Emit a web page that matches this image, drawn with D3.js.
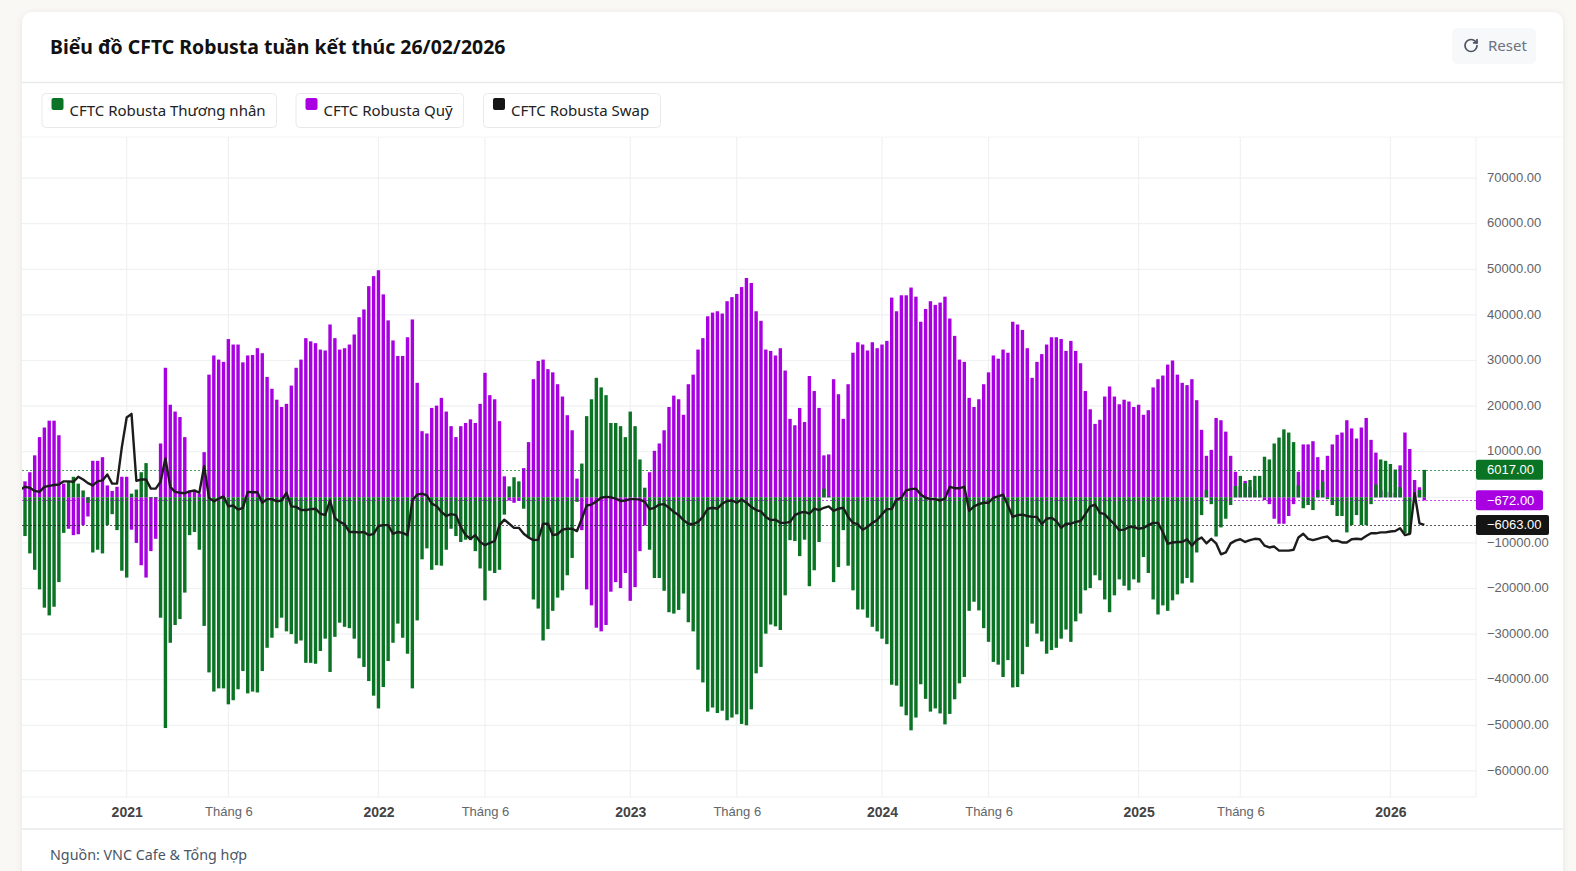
<!DOCTYPE html>
<html lang="vi">
<head>
<meta charset="utf-8">
<title>CFTC Robusta</title>
<script src="https://cdn.jsdelivr.net/npm/d3@7"></script>
<style>
  html, body { margin: 0; padding: 0; background: #faf8f4; overflow: hidden; }
  svg { display: block; font-family: "Noto Sans", "Open Sans", sans-serif; }
  .card { filter: drop-shadow(0 1px 3px rgba(0, 0, 0, 0.08)); }
  .axis text { font-family: "Liberation Sans", sans-serif; font-size: 13px; fill: #5f6368; }
  .axis path, .axis line { display: none; }
</style>
</head>
<body>
<div id="chart"></div>
<script>
// Values, one per weekly report (first one sits just off the left edge)
const commercial = [
  -6000,
  -8500,-12300,-15900,-20200,-24200,-25900,-24000,-18600,-7800,3400,
  4500,3000,1500,-1200,-12100,-11500,-12300,-6100,-3700,-7200,
  -16100,-17600,800,1700,5500,7500,-200,-200,-26400,-50600,
  -31900,-28000,-26700,-20900,-8300,-7600,-11500,-28200,-38400,-42600,
  -41900,-41900,-45400,-44500,-42100,-38100,-43000,-42600,-42800,-38100,
  -33000,-30800,-28700,-26400,-29400,-30000,-32100,-31400,-36300,-36300,
  -36500,-33700,-31000,-38300,-30600,-27500,-28400,-28700,-31000,-35300,
  -37200,-40300,-43500,-46300,-41600,-35900,-31900,-27700,-30800,-34300,
  -41900,-27000,-13600,-11200,-15900,-14900,-15000,-11500,-6900,-8500,
  -9800,-9300,-9400,-11800,-15600,-22600,-16100,-16600,-15900,-3800,
  2400,4400,3500,-2500,-8700,-22400,-24400,-31400,-28900,-24900,
  -22000,-20400,-17100,-13300,-1000,7400,17800,21500,26200,24100,
  22400,16300,16300,15600,13200,18800,15600,8300,2100,-11500,
  -17700,-17700,-20500,-25200,-25500,-24700,-21100,-27400,-29400,-37800,
  -40600,-47000,-46100,-47300,-46800,-48900,-48300,-47600,-49700,-50000,
  -46500,-38600,-37200,-29900,-27900,-28300,-29100,-21500,-9400,-9600,
  -12900,-9300,-19500,-16000,-9800,1900,200,-18600,-15300,-7200,
  -15000,-20400,-24600,-24600,-26400,-28400,-29400,-31000,-32200,-41100,
  -41300,-45900,-47800,-51100,-48300,-41000,-44200,-47000,-46300,-47400,
  -49800,-47500,-44300,-40800,-39400,-24900,-22900,-24800,-28700,-31700,
  -36100,-36700,-39400,-35700,-41700,-41600,-38800,-32800,-27700,-29900,
  -31600,-34300,-33500,-33000,-31000,-29000,-31700,-27200,-25500,-20400,
  -19900,-17100,-18200,-22400,-25200,-21500,-18000,-19400,-20400,-18000,
  -18700,-13100,-16600,-22400,-25700,-23700,-24900,-22600,-21300,-18900,
  -17700,-18700,-12100,-3900,1600,-1500,-8600,-6600,-4700,-1700,
  2500,4700,3100,3800,4700,4700,8900,8300,11800,13100,
  14900,14200,12100,2600,-2400,-1700,-2800,1600,3400,-400,
  -1700,-4100,-4100,-7700,-6100,-3900,-6100,-6100,-1500,2800,
  8300,8000,7300,6100,2200,-7900,-8000,-300,1600,6017
];
const funds = [
  2000,
  3500,5500,9200,13200,15300,16800,16800,13600,3000,-6900,
  -8300,-8100,-6100,-4200,8000,8000,8800,2600,1400,2300,
  4500,4500,-7100,-10000,-14900,-17600,-11800,-9100,11800,28400,
  20300,18800,17600,13200,1500,1500,800,9900,26900,31100,
  30200,29700,34700,33500,33500,29600,31100,31200,32700,31600,
  26400,23800,21400,19800,20500,24500,28400,30200,34900,34200,
  33800,32400,32200,37900,34900,32400,32700,33500,35700,39500,
  41200,46300,48500,49800,44500,38800,34400,31000,31000,35100,
  39000,25100,14500,14000,19600,20100,21800,18800,15600,13200,
  15600,16300,17100,16300,20500,27300,22400,21500,16700,4600,
  -700,-1200,-800,6400,12100,25900,29900,30200,28100,27400,
  24800,22100,18000,14700,4100,-7200,-20200,-23700,-28600,-29400,
  -28000,-20700,-18600,-19900,-16600,-22700,-19700,-11800,-6200,5500,
  10200,11800,14700,19800,22300,21500,18100,24800,26900,32400,
  34900,39700,40500,40800,40300,43000,43900,44600,46100,48100,
  47000,40800,38700,32400,32100,31100,32700,27800,17200,15800,
  19600,16500,26600,23300,19600,9200,9400,25900,22600,17200,
  24800,31700,34000,33500,32200,34000,32700,33500,34300,43800,
  40800,44300,44300,46000,44000,38500,41300,43000,42200,42700,
  44000,39200,35400,30200,29700,21800,19800,21500,24800,27400,
  31100,30400,32400,31700,38500,37900,36700,32700,26200,29700,
  31400,33500,35100,35100,34700,32100,34300,32100,29400,23300,
  19300,16100,17000,22100,24300,22100,20400,21400,21000,19800,
  20300,18100,19100,24100,25900,26700,29100,30000,26900,25100,
  24600,25900,21300,14800,9100,10400,17400,16900,14400,9100,
  5600,2300,3600,2300,1600,500,-600,-1500,-4700,-5800,
  -5800,-4100,-1500,5600,11600,11600,12300,8800,6000,9100,
  11600,13700,14200,16900,15100,12900,15300,17400,12600,9800,
  1600,1200,1200,900,7000,14200,10600,3800,2200,-672
];
const swap = [
  1700,
  2300,2100,1400,1200,2300,2500,2700,2800,3500,3500,
  3400,4500,3900,3100,2600,3500,3700,5000,3000,3000,
  11000,17500,18300,3600,3900,3900,1900,1900,3400,8500,
  2300,1200,1000,900,1300,1500,1000,6800,-100,-900,
  -300,200,-2000,-1800,-2700,-2300,1200,1100,1100,-1200,
  -400,-400,-900,-700,1000,-2000,-2100,-2800,-2800,-2600,
  -2500,-3600,-3900,-700,-4500,-5400,-5900,-7600,-7600,-7700,
  -7600,-8300,-8000,-6300,-6100,-6100,-8000,-7600,-7800,-8300,
  -700,600,800,400,-1400,-1900,-3200,-4100,-3700,-3900,
  -6500,-8300,-9100,-8300,-9800,-10500,-10000,-9600,-6100,-4900,
  -5800,-6700,-6700,-8000,-8800,-9400,-9300,-5800,-5800,-8300,
  -8100,-7100,-6900,-6900,-7400,-4700,-1800,-1600,-900,-100,
  100,0,-300,-800,-700,-400,-400,-500,-1000,-2600,
  -2300,-1600,-1500,-2300,-3200,-3900,-5000,-5800,-5900,-5400,
  -4300,-2500,-2300,-2500,-1400,-800,-700,-1200,-500,-1200,
  -2100,-2800,-3100,-4300,-5000,-4900,-5600,-5600,-5400,-3900,
  -3400,-3200,-3600,-2500,-2800,-2300,-2000,-3000,-2500,-2300,
  -4300,-5600,-5900,-7100,-6500,-5600,-5000,-3700,-2600,-2600,
  -500,-100,1500,1800,1900,600,-100,-400,-400,-700,
  -300,2300,2000,2000,2300,-3000,-2000,-1500,-1200,-1200,
  -100,200,600,-1800,-4300,-3900,-3800,-4100,-4300,-4300,
  -5900,-4700,-4500,-5200,-6700,-5800,-5800,-5400,-5200,-3700,
  -2000,-1600,-3400,-3700,-4900,-5900,-7200,-7100,-6500,-6500,
  -6900,-6700,-6100,-5600,-5600,-7600,-10200,-9900,-9800,-9800,
  -9200,-10600,-9400,-8800,-10100,-9100,-10100,-12500,-12100,-10100,
  -9500,-9200,-9800,-9400,-9100,-9200,-10600,-11000,-10800,-11700,
  -11700,-11700,-11500,-8800,-8000,-9100,-9400,-9100,-8800,-8600,
  -9600,-9500,-9900,-9900,-9200,-9100,-9200,-8500,-7900,-7900,
  -7700,-7700,-7500,-7400,-6800,-8300,-8000,900,-5700,-6063
];
const yTicks = [70000,60000,50000,40000,30000,20000,10000,-10000,-20000,-30000,-40000,-50000,-60000];
const gridValues = [70000,60000,50000,40000,30000,20000,10000,0,-10000,-20000,-30000,-40000,-50000,-60000];
const xTickWeeks = [22,43,74,96,126,148,178,200,231,252,283];
const xTickLabels = ["2021","Tháng 6","2022","Tháng 6","2023","Tháng 6","2024","Tháng 6","2025","Tháng 6","2026"];
const legendNames = ["CFTC Robusta Thương nhân","CFTC Robusta Quỹ","CFTC Robusta Swap"];

const GREEN = "#0a7324", PURPLE = "#a800e0", BLACK = "#151515";

const plot = { left: 22, right: 1476, top: 137, bottom: 797 };

const x = d3.scaleLinear().domain([0, commercial.length - 1]).range([20.16, 1424.3]);
const y = d3.scaleLinear().domain([70000, -60000]).range([178.1, 770.9]);

const svg = d3.select("#chart").append("svg")
    .attr("width", 1576)
    .attr("height", 871);

// Card and its dividers
svg.append("rect")
    .attr("class", "card")
    .attr("x", 22).attr("y", 12)
    .attr("width", 1541).attr("height", 880)
    .attr("rx", 10)
    .attr("fill", "#fff");

[82.5, 137, 829].forEach(py => {
    svg.append("line")
        .attr("x1", 22).attr("x2", 1563)
        .attr("y1", py).attr("y2", py)
        .attr("stroke", py === 137 ? "#f3f4f6" : "#e9eaec")
        .attr("stroke-width", py === 137 ? 1 : 1.5);
});

svg.append("text")
    .attr("x", 50).attr("y", 53.5)
    .attr("font-size", 19.45)
    .attr("font-weight", 700)
    .attr("fill", "#111")
    .text("Biểu đồ CFTC Robusta tuần kết thúc 26/02/2026");

// Reset button
const reset = svg.append("g");
reset.append("rect")
    .attr("x", 1452).attr("y", 28)
    .attr("width", 84).attr("height", 36)
    .attr("rx", 5)
    .attr("fill", "#f7f8fa");
const icon = reset.append("g")
    .attr("transform", "translate(1463,37.5) scale(0.667)")
    .attr("fill", "none")
    .attr("stroke", "#4b5563")
    .attr("stroke-width", 2.6)
    .attr("stroke-linecap", "round")
    .attr("stroke-linejoin", "round");
icon.append("path").attr("d", "M21 12a9 9 0 1 1-9-9c2.52 0 4.93 1 6.74 2.74L21 8");
icon.append("path").attr("d", "M21 3v5h-5");
reset.append("text")
    .attr("x", 1488).attr("y", 51)
    .attr("font-size", 15)
    .attr("fill", "#6b7280")
    .text("Reset");

// Legend boxes
const legendBoxes = [[41.5, 234.5], [295.5, 167.5], [483, 177]];
const legendColors = [GREEN, PURPLE, BLACK];
const legend = svg.selectAll(".legend")
    .data(legendNames)
    .enter()
    .append("g")
    .attr("class", "legend")
    .attr("transform", (d, i) => `translate(${legendBoxes[i][0]},93)`);

legend.append("rect")
    .attr("x", 0.5).attr("y", 0.5)
    .attr("width", (d, i) => legendBoxes[i][1])
    .attr("height", 34)
    .attr("rx", 4)
    .attr("fill", "#fff")
    .attr("stroke", "#e8e9eb");

legend.append("rect")
    .attr("x", 10).attr("y", 5)
    .attr("width", 12).attr("height", 12)
    .attr("rx", 2)
    .attr("fill", (d, i) => legendColors[i]);

legend.append("text")
    .attr("x", 28).attr("y", 23)
    .attr("font-size", 15)
    .attr("fill", "#222")
    .text(d => d);

// Grid
const grid = svg.append("g").attr("stroke", "#f0f1f3").attr("stroke-width", 1.2);
grid.selectAll(".h")
    .data(gridValues)
    .enter()
    .append("line")
    .attr("x1", plot.left).attr("x2", plot.right)
    .attr("y1", d => y(d)).attr("y2", d => y(d));
grid.selectAll(".v")
    .data(xTickWeeks)
    .enter()
    .append("line")
    .attr("x1", d => x(d)).attr("x2", d => x(d))
    .attr("y1", plot.top).attr("y2", plot.bottom);

svg.append("line")
    .attr("x1", plot.right).attr("x2", plot.right)
    .attr("y1", plot.top).attr("y2", plot.bottom)
    .attr("stroke", "#eeeff1");
svg.append("line")
    .attr("x1", plot.left).attr("x2", plot.right)
    .attr("y1", plot.bottom).attr("y2", plot.bottom)
    .attr("stroke", "#eeeff1");

svg.append("clipPath").attr("id", "plot-clip")
    .append("rect")
    .attr("x", plot.left).attr("y", plot.top)
    .attr("width", plot.right - plot.left)
    .attr("height", plot.bottom - plot.top);

const marks = svg.append("g").attr("clip-path", "url(#plot-clip)");

// Bars: funds behind, commercials in front
const drawBars = (values, color) => {
    marks.append("g")
        .selectAll("rect")
        .data(values)
        .enter()
        .append("rect")
        .attr("x", (d, i) => x(i) - 1.7)
        .attr("width", 3.4)
        .attr("y", d => Math.min(y(d), y(0)))
        .attr("height", d => Math.abs(y(d) - y(0)))
        .attr("fill", color);
};
drawBars(funds, PURPLE);
drawBars(commercial, GREEN);

// Dotted lines at the latest values
const lastValues = [commercial, funds, swap].map(s => s[s.length - 1]);
marks.selectAll(".price-line")
    .data(lastValues)
    .enter()
    .append("line")
    .attr("x1", plot.left).attr("x2", plot.right)
    .attr("y1", d => Math.round(y(d)) + 0.5).attr("y2", d => Math.round(y(d)) + 0.5)
    .attr("stroke", (d, i) => legendColors[i])
    .attr("stroke-width", 1)
    .attr("stroke-dasharray", "2 2")
    .attr("opacity", 0.7);

// Swap line
const line = d3.line()
    .x((d, i) => x(i))
    .y(d => y(d));

marks.append("path")
    .datum(swap)
    .attr("d", line)
    .attr("fill", "none")
    .attr("stroke", "#1c1c1c")
    .attr("stroke-width", 2.4)
    .attr("stroke-linejoin", "round");

// Axes
svg.append("g")
    .attr("class", "axis")
    .attr("transform", `translate(${plot.right},-1)`)
    .call(d3.axisRight(y)
        .tickValues(yTicks)
        .tickSize(0)
        .tickPadding(11)
        .tickFormat(d => d.toFixed(2).replace("-", "−")));

svg.append("g")
    .attr("class", "axis")
    .attr("transform", `translate(0,${plot.bottom})`)
    .call(d3.axisBottom(x)
        .tickValues(xTickWeeks)
        .tickSize(0)
        .tickPadding(10)
        .tickFormat((d, i) => xTickLabels[i]))
    .selectAll("text")
    .attr("font-weight", (d, i) => xTickLabels[i].startsWith("Tháng") ? 400 : 700)
    .style("font-size", (d, i) => xTickLabels[i].startsWith("Tháng") ? "13px" : "14px")
    .style("fill", (d, i) => xTickLabels[i].startsWith("Tháng") ? "#62666b" : "#444");

// Last value labels on the price scale
const labels = svg.selectAll(".price-label")
    .data(lastValues)
    .enter()
    .append("g")
    .attr("class", "price-label")
    .attr("transform", d => `translate(${plot.right},${y(d)})`);

labels.append("rect")
    .attr("x", 0).attr("y", -10)
    .attr("width", d => d === lastValues[2] ? 73 : 67)
    .attr("height", 20)
    .attr("rx", 2)
    .attr("fill", (d, i) => legendColors[i]);

labels.append("text")
    .attr("x", 11).attr("y", 4.5)
    .attr("font-family", "'Liberation Sans', sans-serif")
    .attr("font-size", 13)
    .attr("fill", "#fff")
    .text(d => d.toFixed(2).replace("-", "−"));

svg.append("text")
    .attr("x", 50).attr("y", 860)
    .attr("font-size", 14.3)
    .attr("fill", "#4b5563")
    .text("Nguồn: VNC Cafe & Tổng hợp");
</script>
</body>
</html>
